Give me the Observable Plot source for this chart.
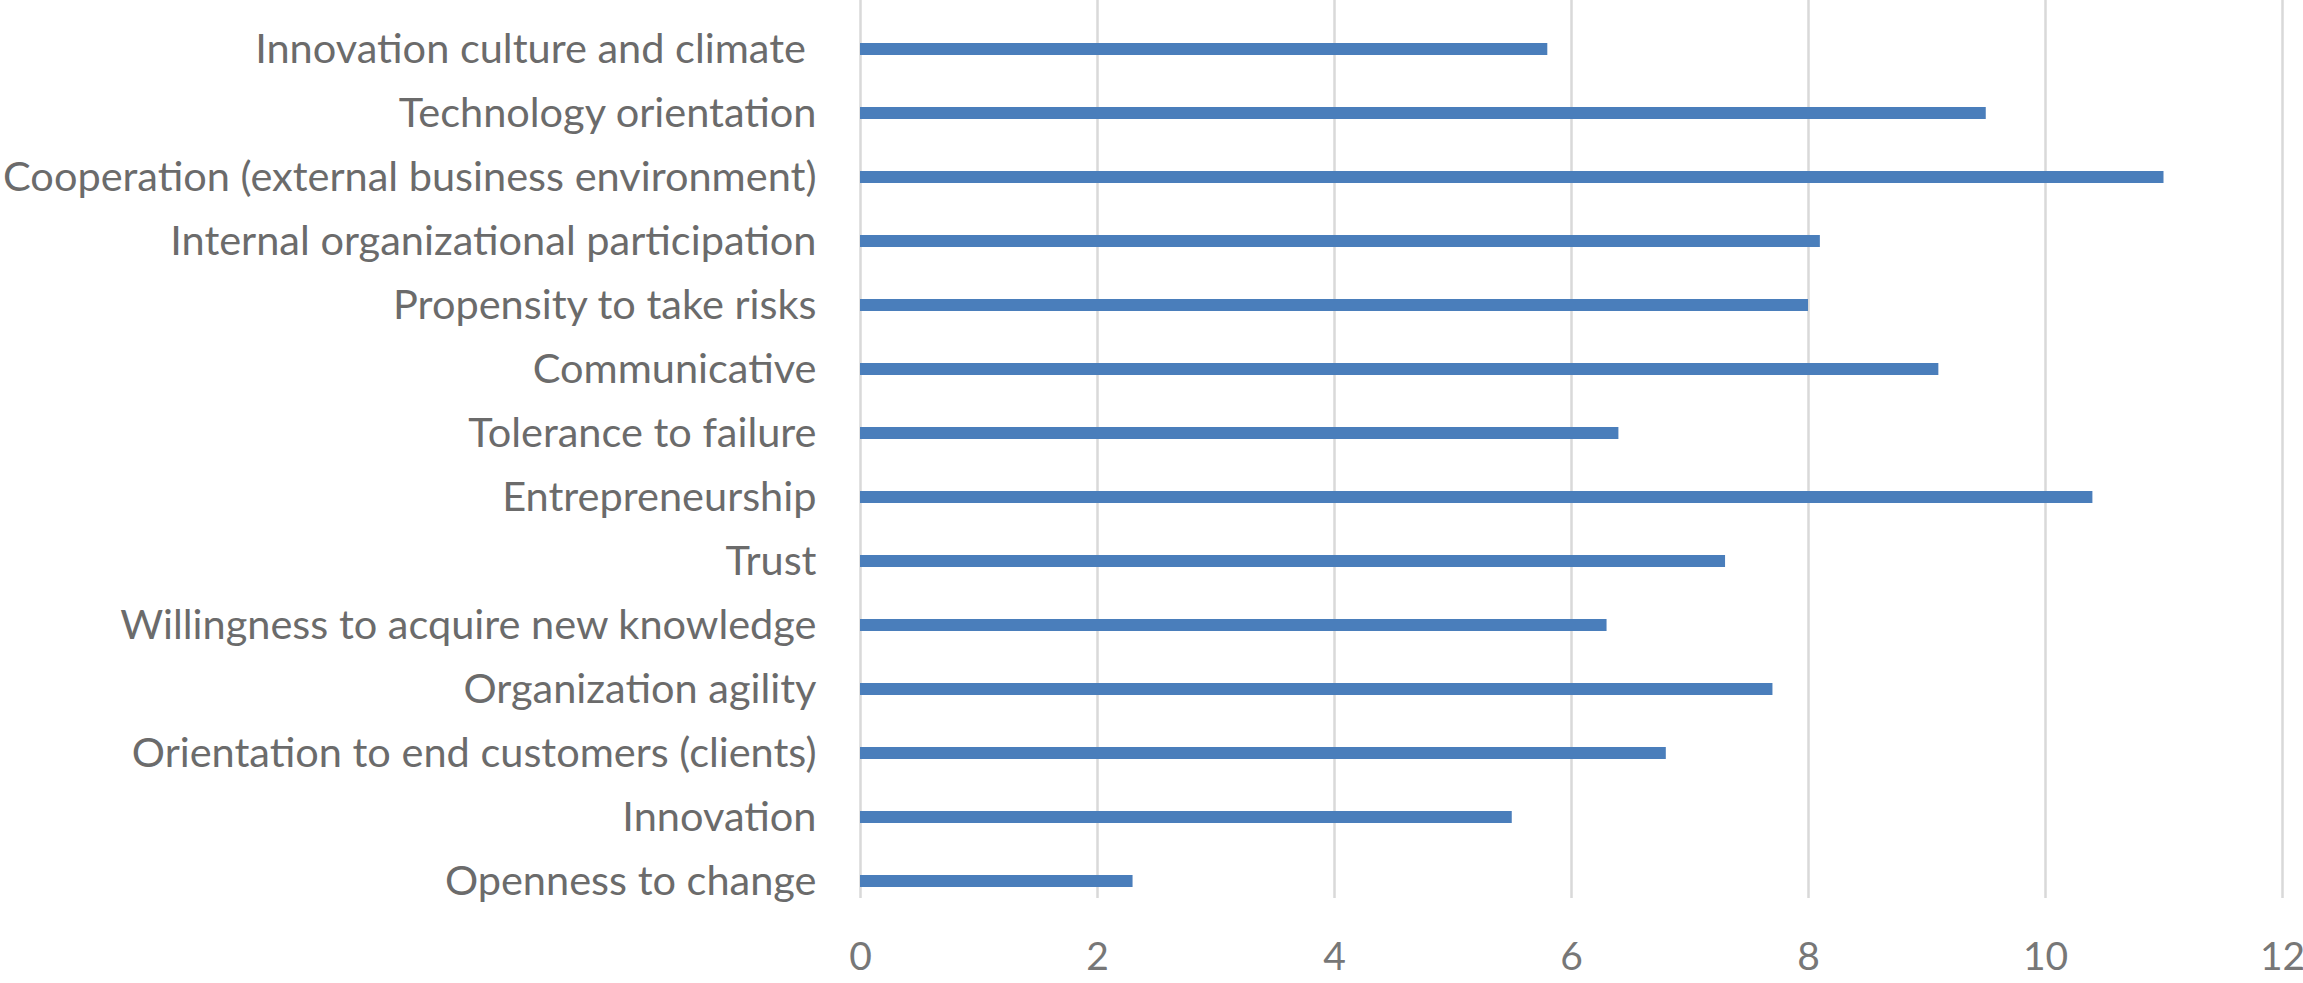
<!DOCTYPE html>
<html>
<head>
<meta charset="utf-8">
<script src="https://cdn.jsdelivr.net/npm/d3@7"></script>
<script src="https://cdn.jsdelivr.net/npm/@observablehq/plot@0.6"></script>
<style>
  html, body { margin: 0; padding: 0; background: #fff; }
  #chart svg text { white-space: pre; }
</style>
</head>
<body>
<div id="chart"></div>
<script>
const categories = [
  "Innovation culture and climate ",
  "Technology orientation",
  "Cooperation (external business environment)",
  "Internal organizational participation",
  "Propensity to take risks",
  "Communicative",
  "Tolerance to failure",
  "Entrepreneurship",
  "Trust",
  "Willingness to acquire new knowledge",
  "Organization agility",
  "Orientation to end customers (clients)",
  "Innovation",
  "Openness to change"
];
const values = [5.8, 9.5, 11.0, 8.1, 8.0, 9.1, 6.4, 10.4, 7.3, 6.3, 7.7, 6.8, 5.5, 2.3];
const xTicks = [0, 2, 4, 6, 8, 10, 12];

const data = categories.map((c, i) => ({category: c, value: values[i]}));

const chart = Plot.plot({
  width: 2303,
  height: 983,
  marginLeft: 860,
  marginRight: 21,
  marginTop: 16,
  marginBottom: 69,
  style: {fontFamily: "Lato, sans-serif", fontSize: "41.5px", color: "#6b6b6b", background: "#fff", overflow: "visible"},
  x: {domain: [0, 12], ticks: xTicks, label: null},
  y: {domain: categories, label: null, padding: 0},
  marks: [
    Plot.ruleX(xTicks, {stroke: "#d9d9d9", strokeWidth: 2.5, strokeOpacity: 1, dy: -16}),
    Plot.barX(data, {x: "value", y: "category", fill: "#4a7ebb", insetTop: 26, insetBottom: 26}),
    Plot.axisY({tickSize: 0, tickPadding: 44, label: null, fill: "#6b6b6b"}),
    Plot.axisX({ticks: xTicks, tickSize: 0, tickPadding: 28, label: null, fill: "#777777", fontSize: 39})
  ]
});
document.getElementById("chart").appendChild(chart);
</script>
</body>
</html>
